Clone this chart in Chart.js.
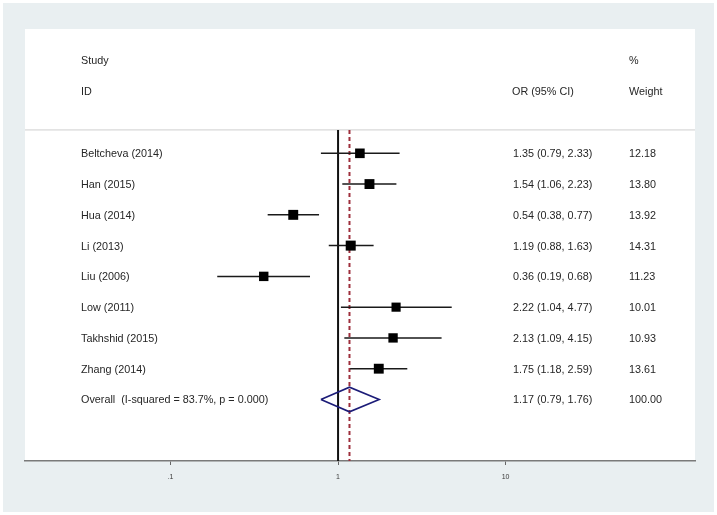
<!DOCTYPE html>
<html>
<head>
<meta charset="utf-8">
<script src="https://cdn.jsdelivr.net/npm/chart.js@4"></script>
<style>
  html, body { margin: 0; padding: 0; background: #ffffff; }
  #wrap { width: 717px; height: 515px; }
</style>
</head>
<body>
<div id="wrap"><canvas id="forest" width="717" height="515"></canvas></div>
<script>
// Study data
const studies = ['Beltcheva (2014)', 'Han (2015)', 'Hua (2014)', 'Li (2013)',
                 'Liu (2006)', 'Low (2011)', 'Takhshid (2015)', 'Zhang (2014)'];
const orEst  = [1.35, 1.54, 0.54, 1.19, 0.36, 2.22, 2.13, 1.75];
const ciLow  = [0.79, 1.06, 0.38, 0.88, 0.19, 1.04, 1.09, 1.18];
const ciHigh = [2.33, 2.23, 0.77, 1.63, 0.68, 4.77, 4.15, 2.59];
const weights = [12.18, 13.80, 13.92, 14.31, 11.23, 10.01, 10.93, 13.61];

// Pooled estimate
const overallLabel = 'Overall  (I-squared = 83.7%, p = 0.000)';
const overallEst = 1.17;
const overallLow = 0.79;
const overallHigh = 1.76;
const overallWeight = 100.00;

// Axis ticks
const xTicks = [0.1, 1, 10];
const xTickLabels = ['.1', '1', '10'];

const overallRow = studies.length; // row index of the pooled diamond
const sepRow = -0.76;              // header separator line
const axisRow = 10.0;              // bottom of plot

// CI whiskers as one line with gaps between rows
const ciData = [];
studies.forEach((s, i) => {
    ciData.push({x: ciLow[i], y: i}, {x: ciHigh[i], y: i}, {x: ciLow[i], y: null});
});

// Diamond outline for the pooled estimate
const diamondData = [
    {x: overallLow, y: overallRow},
    {x: overallEst, y: overallRow - 0.4},
    {x: overallHigh, y: overallRow},
    {x: overallEst, y: overallRow + 0.4},
    {x: overallLow, y: overallRow}
];

const textFont = '10.8px "Liberation Sans", Arial, sans-serif';
const textColor = '#262626';

// Panel backgrounds: grey frame and white plotting panel
const panelBackground = {
    id: 'panelBackground',
    beforeDraw: (chart) => {
        const ctx = chart.ctx;
        const area = chart.chartArea;
        ctx.save();
        ctx.fillStyle = '#e9eff1';
        ctx.fillRect(3, 3, 711, 509);
        ctx.fillStyle = '#ffffff';
        ctx.fillRect(area.left, area.top, area.right - area.left, area.bottom - area.top);
        // separator below the header
        const ySep = chart.scales.y.getPixelForValue(sepRow);
        ctx.strokeStyle = '#cfcfcf';
        ctx.lineWidth = 1;
        ctx.beginPath();
        ctx.moveTo(area.left, ySep);
        ctx.lineTo(area.right, ySep);
        ctx.stroke();
        ctx.restore();
    }
};

// Text columns: study ID, OR (95% CI), % weight
const tableText = {
    id: 'tableText',
    afterDraw: (chart) => {
        const ctx = chart.ctx;
        const y = chart.scales.y;
        ctx.save();
        ctx.font = textFont;
        ctx.fillStyle = textColor;
        ctx.textAlign = 'left';
        ctx.textBaseline = 'middle';

        ctx.fillText('Study', 81, y.getPixelForValue(-3));
        ctx.fillText('ID', 81, y.getPixelForValue(-2));
        ctx.fillText('OR (95% CI)', 512, y.getPixelForValue(-2));
        ctx.fillText('%', 629, y.getPixelForValue(-3));
        ctx.fillText('Weight', 629, y.getPixelForValue(-2));

        const fmt = (v) => v.toFixed(2);
        studies.forEach((s, i) => {
            const py = y.getPixelForValue(i) + 1;
            ctx.fillText(s, 81, py);
            ctx.fillText(fmt(orEst[i]) + ' (' + fmt(ciLow[i]) + ', ' + fmt(ciHigh[i]) + ')', 513, py);
            ctx.fillText(fmt(weights[i]), 629, py);
        });
        const po = y.getPixelForValue(overallRow) + 1;
        ctx.fillText(overallLabel, 81, po);
        ctx.fillText(fmt(overallEst) + ' (' + fmt(overallLow) + ', ' + fmt(overallHigh) + ')', 513, po);
        ctx.fillText(fmt(overallWeight), 629, po);
        ctx.restore();
    }
};

const chart = new Chart(document.getElementById('forest'), {
    type: 'scatter',
    data: {
        datasets: [
            {   // no-effect line at OR = 1
                data: [{x: 1, y: sepRow}, {x: 1, y: axisRow}],
                showLine: true,
                borderColor: '#111111',
                borderWidth: 2,
                pointRadius: 0,
                order: 5
            },
            {   // pooled estimate reference line
                data: [{x: overallEst, y: sepRow}, {x: overallEst, y: axisRow}],
                showLine: true,
                borderColor: '#9e2f3c',
                borderWidth: 2,
                borderDash: [4, 3],
                pointRadius: 0,
                order: 4
            },
            {   // confidence intervals
                data: ciData,
                showLine: true,
                spanGaps: false,
                borderColor: '#1a1a1a',
                borderWidth: 1.5,
                pointRadius: 0,
                order: 3
            },
            {   // study estimates, box size grows with weight
                data: orEst.map((v, i) => ({x: v, y: i})),
                pointStyle: 'rect',
                pointRadius: weights.map(w => 5.14 * Math.pow(w, 0.25) / Math.SQRT2),
                backgroundColor: '#000000',
                borderColor: '#000000',
                borderWidth: 0,
                order: 1
            },
            {   // pooled diamond
                data: diamondData,
                showLine: true,
                borderColor: '#1c1c78',
                borderWidth: 1.6,
                pointRadius: 0,
                order: 2
            }
        ]
    },
    options: {
        responsive: false,
        animation: false,
        layout: { padding: { left: 25, right: 22, top: 29, bottom: 0 } },
        plugins: {
            legend: { display: false },
            tooltip: { enabled: false }
        },
        scales: {
            x: {
                type: 'logarithmic',
                min: 0.01352,
                max: 135.2,
                afterBuildTicks: (scale) => { scale.ticks = xTicks.map(v => ({value: v})); },
                afterFit: (scale) => { scale.height = 54; },
                ticks: {
                    autoSkip: false,
                    maxRotation: 0,
                    padding: 8,
                    color: '#3a3a3a',
                    font: { family: '"Liberation Sans", Arial, sans-serif', size: 7 },
                    callback: (value) => xTickLabels[xTicks.indexOf(value)]
                },
                grid: {
                    drawOnChartArea: false,
                    drawTicks: true,
                    tickLength: 4,
                    color: '#666666',
                    lineWidth: 1
                },
                border: { display: true, color: '#7a7a7a', width: 1.5 }
            },
            y: {
                type: 'linear',
                reverse: true,
                min: -4.04,
                max: axisRow,
                display: false
            }
        }
    },
    plugins: [panelBackground, tableText]
});
</script>
</body>
</html>
